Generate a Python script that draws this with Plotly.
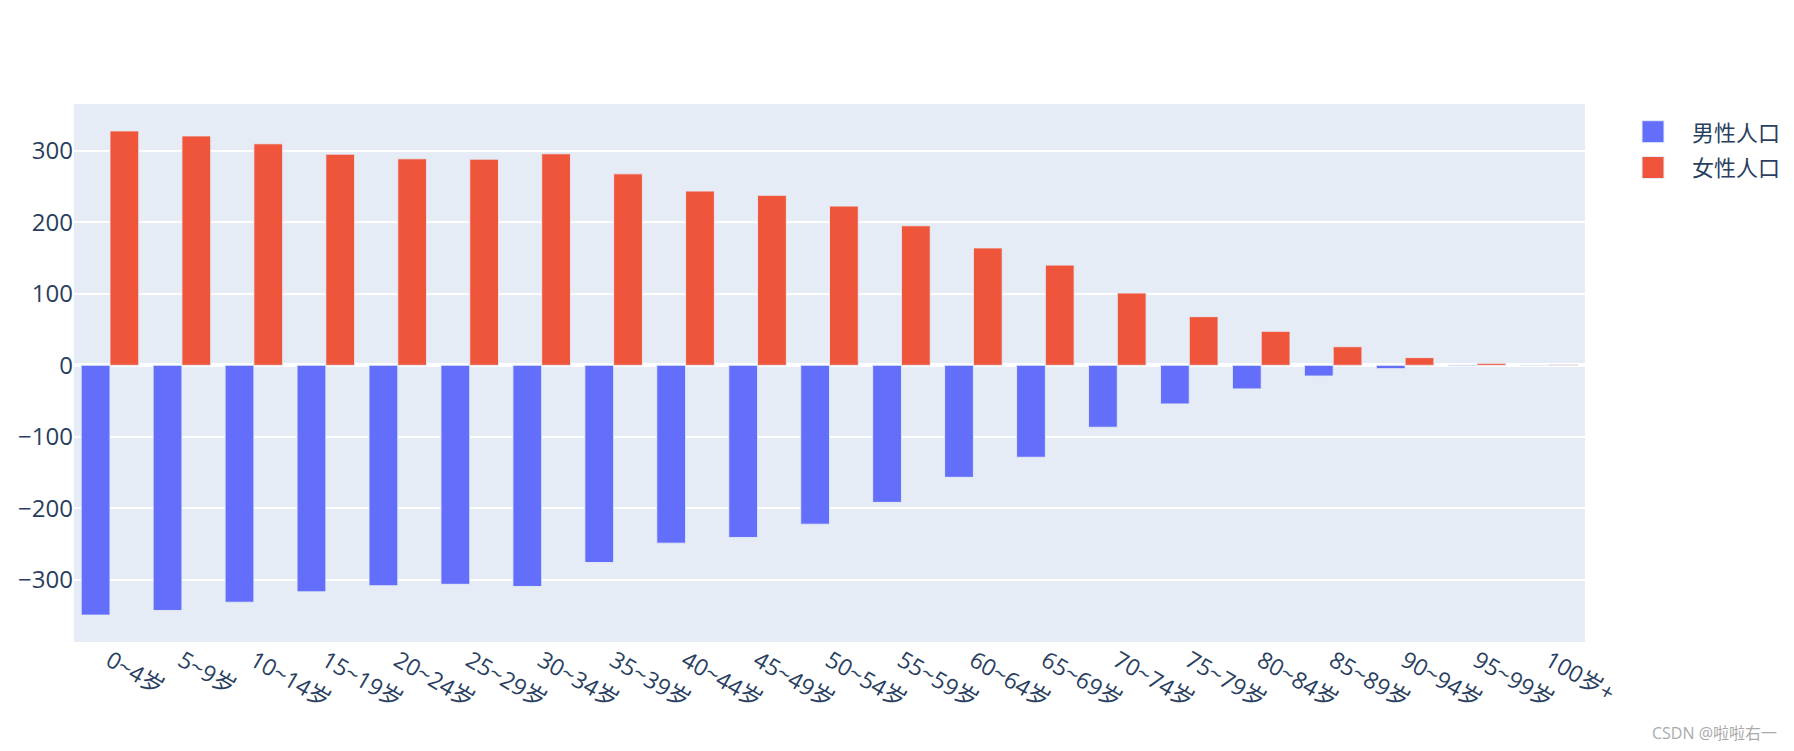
import plotly.graph_objects as go

age_groups = ["0~4岁", "5~9岁", "10~14岁", "15~19岁", "20~24岁", "25~29岁", "30~34岁",
              "35~39岁", "40~44岁", "45~49岁", "50~54岁", "55~59岁", "60~64岁", "65~69岁",
              "70~74岁", "75~79岁", "80~84岁", "85~89岁", "90~94岁", "95~99岁", "100岁+"]
male = [-349, -342.5, -331, -316.5, -308, -306, -309, -275.5, -248.5, -240.5, -222,
        -191.5, -156.5, -128.5, -86.5, -54, -33, -15, -4.7, -1, -0.3]
female = [327.5, 320.5, 309.5, 295, 288.5, 288, 295.5, 267.5, 243.5, 237.5, 222.5,
          195, 164, 140, 101, 68, 47.5, 26, 10.7, 2.8, 0.8]
series_names = ["男性人口", "女性人口"]
series_colors = ["#636efa", "#EF553B"]

font_family = "Open Sans, Noto Sans CJK SC, sans-serif"

# plot-area geometry in pixels (for placing the legend drawn in paper coords)
PL, PT, PW, PH = 74, 104, 1511, 538
def px(x):
    return (x - PL) / PW
def py(y):
    return (PT + PH - y) / PH

fig = go.Figure()
for name, vals, col in zip(series_names, [male, female], series_colors):
    fig.add_trace(go.Bar(x=age_groups, y=vals, name=name, showlegend=False,
                         marker=dict(color=col, line=dict(color="#E5ECF6", width=0.9))))

# legend drawn as shapes + text
for i, (name, col) in enumerate(zip(series_names, series_colors)):
    cy = 131.7 + i * 35.8
    fig.add_shape(type="rect", xref="paper", yref="paper",
                  x0=px(1642), x1=px(1664), y0=py(cy - 11), y1=py(cy + 11),
                  fillcolor=col, line=dict(color="#E5ECF6", width=1))
    fig.add_annotation(text=name, xref="paper", yref="paper", x=px(1690), y=py(cy),
                       xanchor="left", yanchor="middle", showarrow=False,
                       font=dict(size=22, color="#2a3f5f", family=font_family))

fig.add_annotation(text="CSDN @啦啦右一", xref="paper", yref="paper",
                   x=px(1779), y=py(733), xanchor="right", yanchor="middle",
                   showarrow=False, font=dict(size=16, color="#aaaaaa", family=font_family))

fig.update_layout(
    width=1794, height=751,
    template="plotly",
    font=dict(family=font_family, size=23, color="#2a3f5f"),
    margin=dict(l=PL, r=1794 - PL - PW, t=PT, b=751 - PT - PH, autoexpand=False),
    barmode="group",
    plot_bgcolor="#E5ECF6",
    paper_bgcolor="white",
    showlegend=False,
    xaxis=dict(tickangle=30, showgrid=False, automargin=False, tickfont=dict(size=23)),
    yaxis=dict(gridcolor="white", gridwidth=1.8, zerolinecolor="white", zerolinewidth=3.5,
               automargin=False, dtick=100, tickfont=dict(size=24)),
)

fig.write_html("out.html")
